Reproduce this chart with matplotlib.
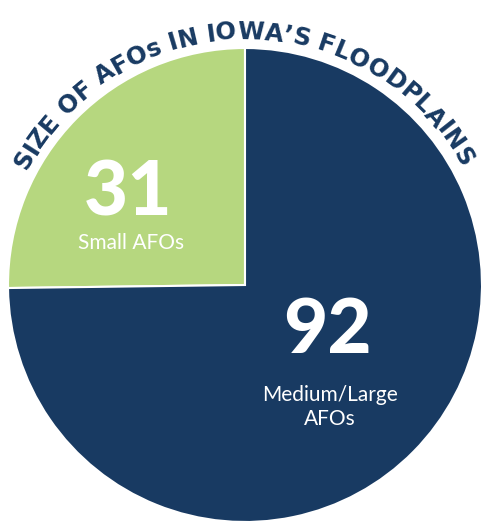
import numpy as np
import matplotlib
matplotlib.use("Agg")
import matplotlib.pyplot as plt

# 数据
categories = ["Small AFOs", "Medium/Large\nAFOs"]
values = [31, 92]
colors = ["#B6D77F", "#183A62"]
title = "SIZE OF AFOs IN IOWA\u2019S FLOODPLAINS"

W, H = 484, 523
cx, cy, R = 245, H - 285, 237

fig = plt.figure(figsize=(W / 100, H / 100), dpi=100)
ax = fig.add_axes([0, 0, 1, 1])

wedges, _ = ax.pie(values, colors=colors, startangle=90, counterclock=True,
                   center=(cx, cy), radius=R,
                   wedgeprops=dict(edgecolor="white", linewidth=1.5))
ax.set_xlim(0, W)
ax.set_ylim(0, H)
ax.set_aspect("equal")
ax.axis("off")

# 数字与标签
num_font = dict(family=["Lato", "DejaVu Sans"], weight="black", color="white")
lab_font = dict(family=["Lato", "DejaVu Sans"], weight="normal", color="white")
ax.text(128, H - 194, str(values[0]), fontsize=55, ha="center", va="center", **num_font)
ax.text(131, H - 243, categories[0], fontsize=15, ha="center", va="center", **lab_font)
ax.text(327, H - 331, str(values[1]), fontsize=55, ha="center", va="center", **num_font)
ax.text(330, H - 407, categories[1], fontsize=15, ha="center", va="center",
        linespacing=1.3, **lab_font)

# 弧形标题
r_base = 246
start_deg, end_deg = 150.5, 30.5
fs = 17.5
tfont = dict(family=["DejaVu Sans"], weight="bold", color="#183A62", fontsize=fs)
renderer = fig.canvas.get_renderer()
widths = []
for ch in title:
    if ch == " ":
        t = ax.text(0, 0, "a a", **tfont)
        w_full = t.get_window_extent(renderer).width
        t.remove()
        t = ax.text(0, 0, "aa", **tfont)
        w_full -= t.get_window_extent(renderer).width
        t.remove()
        widths.append(w_full)
    else:
        t = ax.text(0, 0, ch, **tfont)
        widths.append(t.get_window_extent(renderer).width)
        t.remove()
widths = np.array(widths)
# 字符中心位置 (弧长)
centers = np.cumsum(widths) - widths / 2
span = np.radians(start_deg - end_deg) * r_base
gap = (span - (centers[-1] - centers[0])) / (len(title) - 1)
pos = centers - centers[0] + gap * np.arange(len(title))
for ch, s in zip(title, pos):
    if ch == " ":
        continue
    th = np.radians(start_deg) - s / r_base
    x = cx + r_base * np.cos(th)
    y = cy + r_base * np.sin(th)
    ax.text(x, y, ch, rotation=np.degrees(th) - 90, rotation_mode="anchor",
            ha="center", va="baseline", **tfont)

fig.savefig("out.png", dpi=100)
